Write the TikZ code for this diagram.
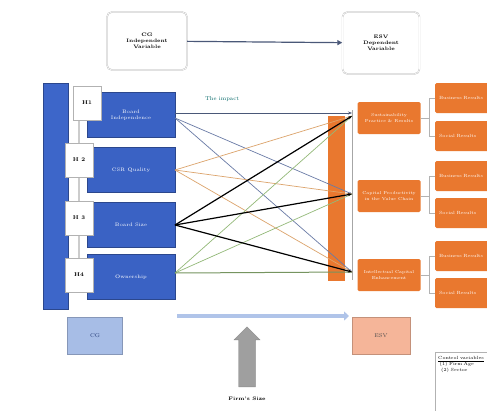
\documentclass[tikz,border=0pt]{standalone}
\usepackage{xcolor}
\usetikzlibrary{positioning,shapes.arrows,arrows.meta}
\definecolor{barblue}{HTML}{3D66C9}
\definecolor{boxblue}{HTML}{3A62C4}
\definecolor{esvorange}{HTML}{E9782F}
\definecolor{lightcg}{HTML}{A7BDE6}
\definecolor{lightesv}{HTML}{F5B599}
\definecolor{impact}{HTML}{4A5878}
\definecolor{lblue}{HTML}{6A7BA6}
\definecolor{ltan}{HTML}{DCA46C}
\definecolor{lgreen}{HTML}{93B978}
\tikzset{
  varbox/.style={draw=gray!55,double=white,double distance=0.6pt,rounded corners=5pt,fill=white,
    minimum width=80pt,minimum height=58pt,align=center,font=\fontsize{5}{6}\selectfont\bfseries},
  hbox/.style={draw=gray!60,fill=white,minimum width=28pt,minimum height=34pt,font=\fontsize{5.5}{6.5}\selectfont\bfseries},
  cgbox/.style={fill=boxblue,draw=barblue!70!black,minimum width=88pt,minimum height=45pt,
    text=white,align=center,font=\fontsize{5}{6}\selectfont},
  midbox/.style={fill=esvorange,rounded corners=1.5pt,minimum width=63pt,minimum height=32pt,
    text=white,align=center,font=\fontsize{4.3}{5.3}\selectfont},
  resbox/.style={fill=esvorange,rounded corners=1.5pt,minimum width=60pt,minimum height=30pt,
    text=white,align=left,text width=52pt,font=\fontsize{4.5}{5.5}\selectfont},
  link/.style={line width=0.7pt},
}
\begin{document}
\begin{tikzpicture}[x=1pt,y=-1pt]
\clip (0,0) rectangle (487,410);
\fill[white] (0,0) rectangle (487,410);
% top boxes
\node[varbox] (cgtop) at (147,41) {CG\\Independent\\Variable};
\node[varbox,minimum width=77pt,minimum height=62pt] (esvtop) at (381,43) {ESV\\Dependent\\Variable};
\draw[impact,line width=1.2pt,-{Triangle[length=5pt,width=5pt]}] (cgtop) -- (esvtop);
% CG side
\node[fill=barblue,draw=barblue!70!black,minimum width=25pt,minimum height=226pt] (cgbar) at (56,196) {};
\draw[gray!40,line width=2pt] (79,118) -- (79,292);
\node[cgbox] (bi) at (131,115) {Board\\Independence};
\node[cgbox] (cq) at (131,170) {CSR Quality};
\node[cgbox] (bs) at (131,225) {Board Size};
\node[cgbox] (ow) at (131,277) {Ownership};
\node[hbox] (h1) at (87,103) {H1};
\node[hbox] (h2) at (79,160) {H 2};
\node[hbox] (h3) at (79,218) {H 3};
\node[hbox] (h4) at (79,275) {H4};
% ESV side
\node[fill=esvorange,minimum width=17pt,minimum height=165pt] (esvbar) at (336,198) {};
\draw[gray!70,line width=0.5pt] (352,110) -- (352,280);
\coordinate (t1) at (352,116);
\coordinate (t2) at (352,194);
\coordinate (t3) at (352,272);
\node[midbox] (m1) at (389,118) {Sustainability\\Practice \& Results};
\node[midbox] (m2) at (389,196) {Capital Productivity\\in the Value Chain};
\node[midbox] (m3) at (389,275) {Intellectual Capital\\Enhancement};
\node[resbox] (r1) at (465,98) {Business Results};
\node[resbox] (r2) at (465,136) {Social Results};
\node[resbox] (r3) at (465,176) {Business Results};
\node[resbox] (r4) at (465,213) {Social Results};
\node[resbox] (r5) at (465,256) {Business Results};
\node[resbox] (r6) at (465,293) {Social Results};
\foreach \m/\a/\b in {m1/r1/r2,m2/r3/r4,m3/r5/r6}{
  \draw[gray!60,line width=0.5pt] (\m.east) -- ++(9,0) coordinate (k);
  \draw[gray!60,line width=0.5pt] (\a.west) -| (k) |- (\b.west);
}
% links
\coordinate (s1) at (175,118);
\coordinate (s2) at (175,170);
\coordinate (s3) at (175,225);
\coordinate (s4) at (175,273);
\node[text=teal!80!black,font=\fontsize{5.5}{6.5}\selectfont] (imp) at (222,99) {The impact};
\draw[impact,line width=1pt,-{Stealth[length=4pt]}] (bi.east |- 0,113) -- (t1 |- 0,113);
\foreach \t in {t2,t3}{\draw[lblue,link,-{Stealth[length=3pt]}] (s1) -- (\t);}
\foreach \t in {t1,t2,t3}{\draw[ltan,link] (s2) -- (\t);}
\foreach \t in {t1,t2}{\draw[lgreen,link] (s4) -- (\t);}
\draw[lgreen!80!black,line width=1pt] (s4) -- (t3);
\foreach \t in {t1,t2,t3}{\draw[black,line width=1.2pt,-{Stealth[length=4pt]}] (s3) -- (\t);}
% bottom
\node[fill=lightcg,draw=lightcg!80!black,minimum width=55pt,minimum height=37pt,font=\fontsize{5.5}{6.5}\selectfont,text=barblue!60!black] (cgb) at (95,336) {CG};
\node[fill=lightesv,draw=lightesv!80!black,minimum width=58pt,minimum height=37pt,font=\fontsize{5.5}{6.5}\selectfont,text=black!70] (esvb) at (381,336) {ESV};
\coordinate (la) at (177,316);
\coordinate (lb) at (349,316);
\draw[lightcg!90!white,line width=4pt,-{Triangle[length=5pt,width=9pt]}] (la) -- (lb);
\node[single arrow,fill=gray!75,draw=gray!90,shape border rotate=90,minimum height=60pt,minimum width=26pt,
  single arrow head extend=2pt] (fs) at (247,361) {};
\node[font=\fontsize{5}{6}\selectfont\bfseries] (fsl) at (247,399) {Firm's Size};
\draw[gray!60] (435,420) |- (495,352);
\node[anchor=north west,inner sep=2pt,text width=55pt,align=left,
  font=\fontsize{4.5}{6}\selectfont] (ctrl) at (436,354) {\underline{Control variables}\\ \ (1) Firm Age\\ \ \ (2) Sector};
\end{tikzpicture}
\end{document}
